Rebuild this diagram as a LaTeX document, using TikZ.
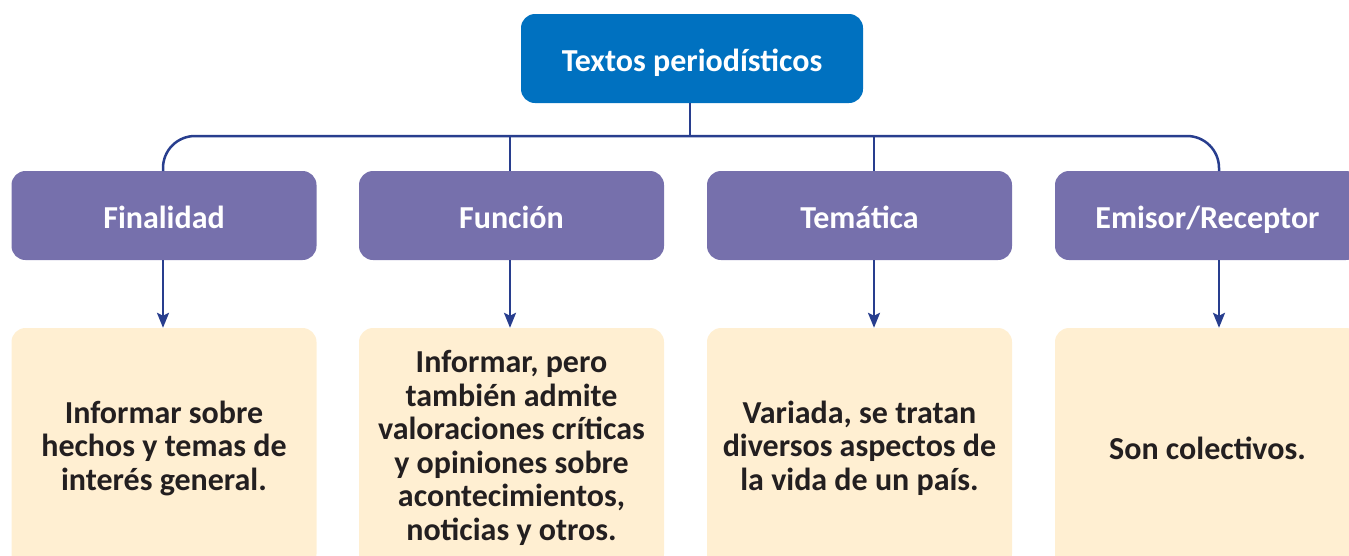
\documentclass[tikz,border=0pt]{standalone}
\usepackage{fontspec}
\setmainfont{Carlito}
\usetikzlibrary{arrows.meta}
\definecolor{topblue}{RGB}{0,113,192}
\definecolor{purp}{RGB}{118,112,172}
\definecolor{cream}{RGB}{255,239,210}
\definecolor{lineblue}{RGB}{40,62,142}
\definecolor{txt}{RGB}{35,31,32}
\begin{document}
\begin{tikzpicture}[x=1pt,y=-1pt,
  topbox/.style={fill=topblue, rounded corners=14pt, minimum width=342pt, minimum height=89pt, inner sep=0pt, text=white, text height=25pt, text depth=0pt, font=\fontsize{32}{34}\selectfont\bfseries},
  catbox/.style={fill=purp, rounded corners=14pt, minimum width=305pt, minimum height=89pt, inner sep=0pt, text=white, text height=25pt, text depth=0pt, font=\fontsize{32}{34}\selectfont\bfseries},
  descbox/.style={fill=cream, rounded corners=14pt, minimum width=305pt, minimum height=240pt, inner sep=0pt, text=txt, align=center, font=\fontsize{32}{33.5}\selectfont\bfseries},
  conn/.style={draw=lineblue, line width=2.5pt},
  arr/.style={conn, -{Stealth[length=15pt,width=12pt,inset=3pt]}}]
\useasboundingbox (0,0) rectangle (1349,555);
\clip (0,0) rectangle (1349,555);
\node[topbox] (top) at (692,58.5) {Textos periodísticos};
\node[catbox] (fin) at (164,215.5) {Finalidad};
\node[catbox] (fun) at (511.5,215.5) {Función};
\node[catbox] (tem) at (859.5,215.5) {Temática};
\node[catbox] (emi) at (1207.5,215.5) {Emisor/Receptor};
\node[descbox] (finT) at (164,448) {Informar sobre\\hechos y temas de\\interés general.};
\node[descbox] (funT) at (511.5,448) {Informar, pero\\también admite\\valoraciones críticas\\y opiniones sobre\\acontecimientos,\\noticias y otros.};
\node[descbox] (temT) at (859.5,448) {Variada, se tratan\\diversos aspectos de\\la vida de un país.};
\node[descbox] (emiT) at (1207.5,448) {Son colectivos.};
\coordinate (hub) at (690,136);
\coordinate (c1) at (163,171);
\coordinate (c2) at (510,171);
\coordinate (c3) at (874,171);
\coordinate (c4) at (1219,171);
\draw[conn] (top.south -| hub) -- (hub);
\draw[conn, rounded corners=32pt] (c1) |- (hub) -| (c4);
\draw[conn] (c2) -- (c2 |- hub);
\draw[conn] (c3) -- (c3 |- hub);
\draw[arr] (fin.south -| c1) -- (finT.north -| c1);
\draw[arr] (fun.south -| c2) -- (funT.north -| c2);
\draw[arr] (tem.south -| c3) -- (temT.north -| c3);
\draw[arr] (emi.south -| c4) -- (emiT.north -| c4);
\end{tikzpicture}
\end{document}
